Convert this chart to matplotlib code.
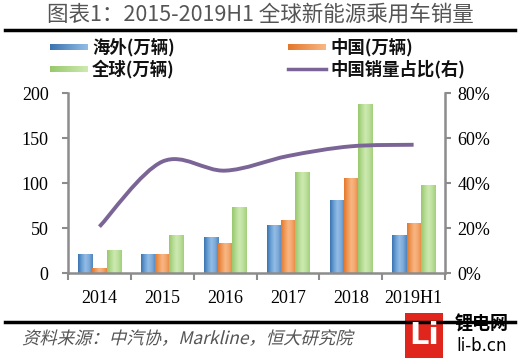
import matplotlib.pyplot as plt
import numpy as np
from matplotlib.colors import LinearSegmentedColormap
from matplotlib.path import Path
from matplotlib.patches import PathPatch, Rectangle
from matplotlib.lines import Line2D
from matplotlib.textpath import TextPath
from matplotlib.font_manager import FontProperties
from matplotlib.transforms import Affine2D

# 数据
years = ['2014', '2015', '2016', '2017', '2018', '2019H1']
overseas = [20, 21, 39, 53, 81, 42]
china = [5, 20, 33, 58, 105, 55]
world = [25, 42, 73, 112, 187, 97]
share = [20.6, 49.5, 45.5, 52.0, 56.3, 57.0]

cjk = ['Noto Sans CJK SC', 'DejaVu Sans']
serif = ['Liberation Serif', 'DejaVu Serif']

grads = {
    'blue': ['#3a74b0', '#6a9fd4', '#93bde6', '#7eaad8', '#4d85bf'],
    'orange': ['#e3782c', '#f09a58', '#f8b785', '#f2a56b', '#e8843c'],
    'green': ['#98c86c', '#b4da92', '#cdeab0', '#bde09e', '#a2cf7a'],
}
line_color = '#7b6596'
axis_color = '#8c8c8c'

fig = plt.figure(figsize=(5.2, 3.58), dpi=100)
ax = fig.add_axes([0.1308, 0.2374, 0.7250, 0.5028])

x = np.arange(len(years))
w = 0.225
grad = np.linspace(0, 1, 64).reshape(1, -1)
for off, vals, key in [(-w, overseas, 'blue'), (0, china, 'orange'), (w, world, 'green')]:
    cmap = LinearSegmentedColormap.from_list(key, grads[key])
    bars = ax.bar(x + off, vals, w, color='none', edgecolor='none', zorder=2)
    for r in bars:
        x0, h, bw = r.get_x(), r.get_height(), r.get_width()
        ax.imshow(grad, cmap=cmap, extent=[x0, x0 + bw, 0, h], aspect='auto',
                  zorder=2, interpolation='bilinear')

ax.set_xlim(-0.5, len(years) - 0.5)
ax.set_ylim(0, 200)
ax.set_yticks([0, 50, 100, 150, 200])
ax.set_xticks(x)
ax.set_xticklabels(years)
ax.set_xticks(np.arange(len(years) + 1) - 0.5, minor=True)
ax.tick_params(axis='x', which='major', length=0, pad=12)
ax.tick_params(axis='x', which='minor', length=5, width=1.5, color=axis_color, direction='out')
ax.tick_params(axis='y', length=4, width=1.5, color=axis_color, direction='out', pad=10)
for lab in ax.get_xticklabels() + ax.get_yticklabels():
    lab.set_fontfamily(serif)
    lab.set_fontsize(13)
for s in ['top', 'right']:
    ax.spines[s].set_visible(False)
for s in ['left', 'bottom']:
    ax.spines[s].set_color(axis_color)
    ax.spines[s].set_linewidth(1.8)

# 右轴：平滑折线
ax2 = ax.twinx()
ax2.set_ylim(0, 80)
ax2.set_yticks([0, 20, 40, 60, 80])
ax2.set_yticklabels([f'{v}%' for v in [0, 20, 40, 60, 80]])
ax2.tick_params(axis='y', length=4, width=1.5, color=axis_color, direction='out', pad=5)
for lab in ax2.get_yticklabels():
    lab.set_fontfamily(serif)
    lab.set_fontsize(13)
for s in ['top', 'left', 'bottom']:
    ax2.spines[s].set_visible(False)
ax2.spines['right'].set_color(axis_color)
ax2.spines['right'].set_linewidth(1.8)

pts = np.column_stack([x, share]).astype(float)
verts = [pts[0]]
codes = [Path.MOVETO]
n = len(pts)
for i in range(n - 1):
    p0 = pts[max(i - 1, 0)]
    p1 = pts[i]
    p2 = pts[i + 1]
    p3 = pts[min(i + 2, n - 1)]
    c1 = p1 + (p2 - p0) / 6
    c2 = p2 - (p3 - p1) / 6
    verts += [c1, c2, p2]
    codes += [Path.CURVE4] * 3
ax2.add_patch(PathPatch(Path(verts, codes), facecolor='none', edgecolor=line_color,
                        lw=2.8, capstyle='butt', zorder=3))

# 图例
def grad_patch(x0, y0, key):
    cmap = LinearSegmentedColormap.from_list(key + 'l', [grads[key][0], grads[key][2]])
    pax = fig.add_axes([x0 / 520, 1 - (y0 + 3) / 358, 38 / 520, 6 / 358])
    pax.imshow(grad, cmap=cmap, aspect='auto', interpolation='bilinear')
    pax.axis('off')

leg_font = dict(family=cjk, fontsize=12.5, fontweight='bold', va='center', color='#111111')
grad_patch(50, 47, 'blue')
fig.text(92 / 520, 1 - 47 / 358, '海外(万辆)', **leg_font)
grad_patch(288, 47, 'orange')
fig.text(330 / 520, 1 - 47 / 358, '中国(万辆)', **leg_font)
grad_patch(50, 69, 'green')
fig.text(92 / 520, 1 - 69 / 358, '全球(万辆)', **leg_font)
fig.add_artist(Line2D([288 / 520, 326 / 520], [1 - 69 / 358] * 2, color=line_color, lw=2.5))
fig.text(330 / 520, 1 - 69 / 358, '中国销量占比(右)', **leg_font)

# 标题与来源
fig.text(0.5, 1 - 15 / 358, '图表1：2015-2019H1 全球新能源乘用车销量', family=cjk,
         fontsize=15.5, color='#555555', ha='center', va='center')
fig.add_artist(Line2D([5 / 520, 515 / 520], [1 - 30 / 358] * 2, color='black', lw=2.5))
fig.add_artist(Line2D([5 / 520, 515 / 520], [1 - 322 / 358] * 2, color='black', lw=2.5))

# 斜体来源文字（CJK 字体无斜体，用倾斜变换）
src = TextPath((0, 0), '资料来源：中汽协，Markline，恒大研究院', size=12.5,
               prop=FontProperties(family='Noto Sans CJK SC'))
src_tr = Affine2D().skew_deg(14, 0).scale(fig.dpi / 72).translate(22, 358 - 344)
fig.add_artist(PathPatch(src, transform=src_tr, facecolor='#555555', edgecolor='none'))

# 角标
fig.add_artist(Rectangle((405 / 520, 0), 38 / 520, 45 / 358, transform=fig.transFigure,
                         facecolor='#e0261c', edgecolor='none'))
fig.text(424 / 520, 22 / 358, 'Li', family=['DejaVu Sans'], fontsize=22, fontweight='bold',
         color='white', ha='center', va='center')
fig.text(482 / 520, 1 - 324 / 358, '锂电网', family=cjk, fontsize=13, fontweight='bold',
         color='black', ha='center', va='center')
fig.text(482 / 520, 1 - 346 / 358, 'li-b.cn', family=['DejaVu Sans'], fontsize=12,
         color='black', ha='center', va='center')

fig.savefig('out.png', dpi=100)
